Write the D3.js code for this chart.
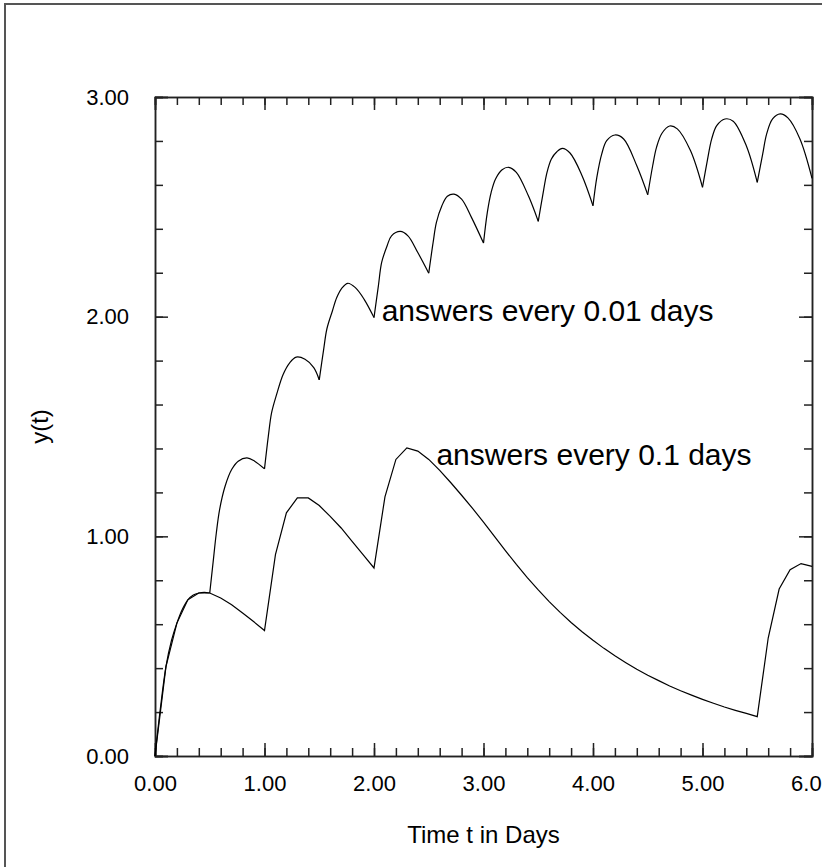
<!DOCTYPE html>
<meta charset="utf-8">
<style>
body { margin: 0; background: #fff; }
svg { display: block; font-family: "Liberation Sans", Arial, Helvetica, sans-serif; }
.frame { fill: none; stroke: #555; stroke-width: 2; }
.axis path, .axis line { stroke: #222; stroke-width: 1.5; }
.axis text { font-size: 22px; fill: #000; }
.curve { fill: none; stroke: #000; stroke-width: 1.2; }
.note { font-size: 30px; fill: #000; }
.title { font-size: 24px; fill: #000; }
</style>
<div id="chart"></div>
<script src="https://cdn.jsdelivr.net/npm/d3@7/dist/d3.min.js"></script>
<script>

// answers every 0.1 days (sampled at t = 0, 0.1, ... 6.0)
var coarseT = [0,0.1,0.2,0.3,0.4,0.5,0.6,0.7,0.8,0.9,
               1.0,1.1,1.2,1.3,1.4,1.5,1.6,1.7,1.8,1.9,
               2.0,2.1,2.2,2.3,2.4,2.5,2.6,2.7,2.8,2.9,
               3.0,3.1,3.2,3.3,3.4,3.5,3.6,3.7,3.8,3.9,
               4.0,4.1,4.2,4.3,4.4,4.5,4.6,4.7,4.8,4.9,
               5.0,5.1,5.2,5.3,5.4,5.5,5.6,5.7,5.8,5.9,6.0]
var coarseY = [0,0.407,0.605,0.711,0.742,0.742,0.719,0.689,0.651,0.612,
               0.571,0.917,1.107,1.175,1.175,1.140,1.091,1.038,0.977,0.917,
               0.856,1.180,1.350,1.403,1.388,1.350,1.300,1.245,1.187,1.127,
               1.065,1.000,0.935,0.872,0.812,0.756,0.703,0.654,0.608,0.566,
               0.527,0.490,0.456,0.425,0.395,0.368,0.343,0.319,0.297,0.277,
               0.258,0.240,0.223,0.208,0.194,0.179,0.537,0.760,0.848,0.876,0.863]

// answers every 0.01 days
var fineT = [0,0.05,0.1,0.15,0.2,0.25,0.3,0.35,0.4,0.45,
             0.5,0.53,0.56,0.59,0.64,0.70,0.76,0.84,0.91,
             1.0,1.035,1.065,1.11,1.17,1.23,1.29,1.37,1.45,
             1.5,1.54,1.57,1.62,1.66,1.71,1.76,1.83,1.91,
             2.0,2.04,2.07,2.12,2.16,2.24,2.31,2.40,
             2.5,2.54,2.57,2.62,2.67,2.73,2.80,2.89,
             3.0,3.035,3.07,3.11,3.17,3.23,3.30,3.41,
             3.5,3.54,3.58,3.62,3.67,3.72,3.79,3.90,
             4.0,4.035,4.08,4.125,4.20,4.28,4.40,
             4.5,4.545,4.58,4.63,4.70,4.77,4.89,
             5.0,5.044,5.084,5.13,5.205,5.28,5.40,
             5.5,5.55,5.586,5.64,5.71,5.78,5.89,6.0]
var fineY = [0,0.22,0.407,0.525,0.605,0.668,0.711,0.733,0.742,0.745,
             0.742,0.879,1.015,1.122,1.228,1.304,1.342,1.357,1.342,
             1.307,1.456,1.563,1.645,1.737,1.790,1.816,1.806,1.768,
             1.712,1.850,1.945,2.026,2.087,2.132,2.152,2.132,2.079,
             1.996,2.140,2.247,2.323,2.368,2.388,2.368,2.292,
             2.198,2.338,2.429,2.505,2.548,2.558,2.535,2.452,
             2.335,2.475,2.566,2.627,2.669,2.680,2.657,2.550,
             2.434,2.550,2.657,2.718,2.751,2.766,2.745,2.642,
             2.505,2.634,2.741,2.801,2.827,2.809,2.687,
             2.555,2.687,2.771,2.835,2.868,2.855,2.756,
             2.589,2.710,2.809,2.870,2.900,2.890,2.778,
             2.611,2.741,2.832,2.900,2.923,2.905,2.809,2.630]

// days a new dose starts (corners of the fine curve)
var doseDays = [0.5,1.0,1.5,2.0,2.5,3.0,3.5,4.0,4.5,5.0,5.5]

var xTicks = [0,1,2,3,4,5,6]
var yTicks = [0,1,2,3]
var notes = [
  {text: "answers every 0.01 days", t: 2.07, v: 1.98},
  {text: "answers every 0.1 days", t: 2.57, v: 1.325}
]

var W = 822, H = 867
var margin = {left: 155, top: 97, right: 10, bottom: 111}

var svg = d3.select("#chart").append("svg")
    .attr("width", W)
    .attr("height", H)

svg.append("rect").attr("class", "frame")
    .attr("x", 5).attr("y", 4)
    .attr("width", W + 20).attr("height", H + 20)

var x = d3.scaleLinear().domain([0, 6]).range([margin.left, W - margin.right])
var y = d3.scaleLinear().domain([0, 3]).range([H - margin.bottom, margin.top])

var fmt = d3.format(".2f")
var minorX = d3.range(0, 31).map(function(i) { return i * 0.2 })
var minorY = d3.range(0, 16).map(function(i) { return i * 0.2 })

// minor ticks (inside)
svg.append("g").attr("class", "axis")
    .attr("transform", "translate(0," + y(0) + ")")
    .call(d3.axisBottom(x).tickValues(minorX).tickSize(-8).tickFormat(""))
svg.append("g").attr("class", "axis")
    .attr("transform", "translate(0," + y(3) + ")")
    .call(d3.axisTop(x).tickValues(minorX).tickSize(-8).tickFormat(""))
svg.append("g").attr("class", "axis")
    .attr("transform", "translate(" + x(0) + ",0)")
    .call(d3.axisLeft(y).tickValues(minorY).tickSize(-8).tickFormat(""))
svg.append("g").attr("class", "axis")
    .attr("transform", "translate(" + x(6) + ",0)")
    .call(d3.axisRight(y).tickValues(minorY).tickSize(-8).tickFormat(""))

// major ticks with labels
svg.append("g").attr("class", "axis")
    .attr("transform", "translate(0," + y(0) + ")")
    .call(d3.axisBottom(x).tickValues(xTicks).tickSize(-13).tickPadding(19).tickFormat(fmt))
svg.append("g").attr("class", "axis")
    .attr("transform", "translate(0," + y(3) + ")")
    .call(d3.axisTop(x).tickValues(xTicks).tickSize(-13).tickFormat(""))
svg.append("g").attr("class", "axis")
    .attr("transform", "translate(" + x(0) + ",0)")
    .call(d3.axisLeft(y).tickValues(yTicks).tickSize(-13).tickPadding(26).tickFormat(fmt))
svg.append("g").attr("class", "axis")
    .attr("transform", "translate(" + x(6) + ",0)")
    .call(d3.axisRight(y).tickValues(yTicks).tickSize(-13).tickFormat(""))

// coarse answers: straight lines between samples
var coarse = coarseT.map(function(t, i) { return [t, coarseY[i]] })
svg.append("path").attr("class", "curve")
    .attr("d", d3.line().x(function(d) { return x(d[0]) }).y(function(d) { return y(d[1]) })(coarse))

// fine answers: smooth between doses, sharp corner at each dose
var segs = [[]]
fineT.forEach(function(t, i) {
  var p = [t, fineY[i]]
  segs[segs.length - 1].push(p)
  if (doseDays.indexOf(t) >= 0) segs.push([p])
})
var smooth = d3.line().curve(d3.curveCatmullRom.alpha(0.5))
    .x(function(d) { return x(d[0]) }).y(function(d) { return y(d[1]) })
svg.selectAll(".fine").data(segs.filter(function(s) { return s.length > 1 }))
  .enter().append("path").attr("class", "curve fine")
    .attr("d", smooth)

svg.selectAll(".note").data(notes)
  .enter().append("text").attr("class", "note")
    .attr("x", function(d) { return x(d.t) })
    .attr("y", function(d) { return y(d.v) })
    .text(function(d) { return d.text })

svg.append("text").attr("class", "title")
    .attr("x", (x(0) + x(6)) / 2).attr("y", 843)
    .attr("text-anchor", "middle")
    .text("Time t in Days")

svg.append("text").attr("class", "title")
    .attr("transform", "translate(48," + y(1.5) + ") rotate(-90)")
    .attr("text-anchor", "middle")
    .text("y(t)")

</script>
